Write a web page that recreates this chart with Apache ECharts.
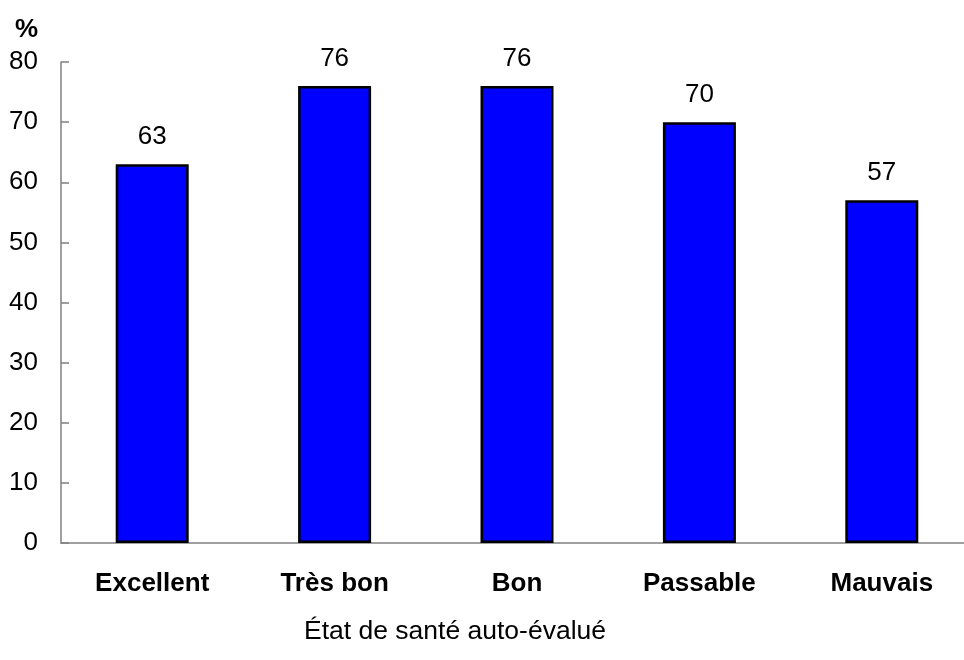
<!DOCTYPE html>
<html>
<head>
<meta charset="utf-8">
<script src="https://cdn.jsdelivr.net/npm/echarts@6/dist/echarts.min.js"></script>
<style>
html,body{margin:0;padding:0;background:#fff;}
#chart{width:964px;height:660px;}
</style>
</head>
<body>
<div id="chart"></div>
<script>
const categories = ['Excellent', 'Très bon', 'Bon', 'Passable', 'Mauvais'];
const values = [63, 76, 76, 70, 57];
const yUnit = '%';
const xTitle = 'État de santé auto-évalué';

const FONT = '"Liberation Sans", Arial, sans-serif';
const chart = echarts.init(document.getElementById('chart'), null, {renderer: 'canvas'});
chart.setOption({
  animation: false,
  backgroundColor: '#ffffff',
  textStyle: {fontFamily: FONT},
  title: [
    {text: yUnit, left: 10, top: 12, textStyle: {fontFamily: FONT, fontSize: 26, fontWeight: 'bold', color: '#000'}},
    {text: xTitle, left: 450, top: 627, textAlign: 'center', textVerticalAlign: 'middle',
     textStyle: {fontFamily: FONT, fontSize: 26.5, fontWeight: 'normal', color: '#000'}}
  ],
  grid: {left: 61, top: 62, width: 912, height: 481, containLabel: false, outerBoundsMode: 'none'},
  xAxis: {
    type: 'category',
    data: categories,
    axisLine: {show: true, lineStyle: {color: '#808080', width: 1.5}},
    axisTick: {show: false},
    axisLabel: {fontFamily: FONT, fontSize: 26, fontWeight: 'bold', color: '#000', margin: 28}
  },
  yAxis: {
    type: 'value',
    min: 0, max: 80, interval: 10,
    splitLine: {show: false},
    axisLine: {show: true, lineStyle: {color: '#808080', width: 1.5}},
    axisTick: {show: true, inside: true, length: 8, lineStyle: {color: '#808080', width: 1.5}},
    axisLabel: {fontFamily: FONT, fontSize: 26, color: '#000', margin: 23}
  },
  series: [{
    type: 'bar',
    data: values,
    barWidth: 73,
    itemStyle: {color: '#0000ff', borderColor: '#000', borderWidth: 2.5},
    label: {show: true, position: 'top', distance: 14, fontFamily: FONT, fontSize: 26, color: '#000'}
  }]
});
</script>
</body>
</html>
